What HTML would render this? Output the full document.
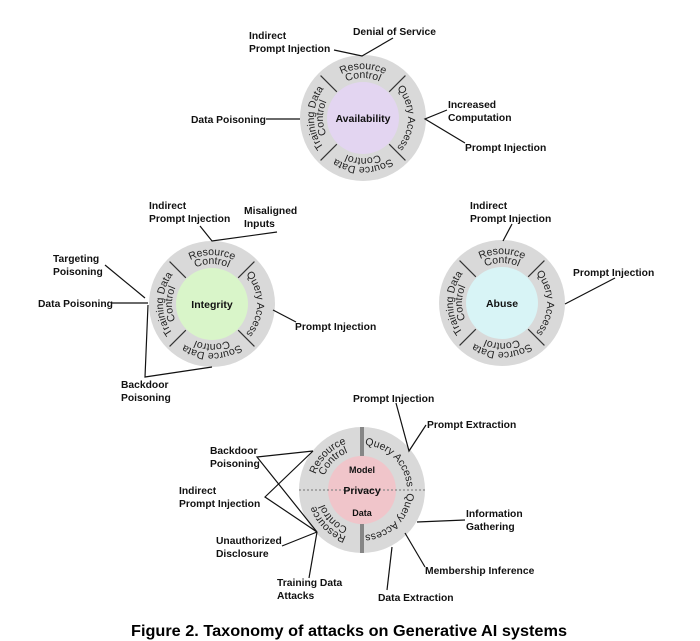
<!DOCTYPE html>
<html><head><meta charset="utf-8"><style>
html,body{margin:0;padding:0;background:#fff}
svg{display:block}
.l{font-family:"Liberation Sans",sans-serif;font-weight:bold;font-size:10.3px;fill:#111}
.r{font-family:"Liberation Sans",sans-serif;font-size:10.5px;fill:#222}
.c{font-family:"Liberation Sans",sans-serif;font-weight:bold;font-size:10.5px;fill:#111}
line,polyline{stroke:#111;stroke-width:1.2;fill:none}
</style></head><body>
<svg width="700" height="641" viewBox="0 0 700 641" xmlns="http://www.w3.org/2000/svg">
<defs>
<path id="a1" d="M -49,0 A 49 49 0 0 1 49,0"/>
<path id="a2" d="M -40,0 A 40 40 0 0 1 40,0"/>
<path id="a0" d="M -45,0 A 45 45 0 0 1 45,0"/>
<g id="sep">
<line x1="0" y1="-37" x2="0" y2="-60" style="stroke:#333;stroke-width:1.2"/>
</g>
</defs>

<!-- Availability -->
<g transform="translate(363,118)">
<circle r="63" fill="#d9d9d9"/>
<circle r="36" fill="#e3d5f1"/>
<use href="#sep" transform="rotate(45)"/><use href="#sep" transform="rotate(135)"/><use href="#sep" transform="rotate(-45)"/><use href="#sep" transform="rotate(-135)"/>
<text class="r"><textPath href="#a1" startOffset="50%" text-anchor="middle">Resource</textPath></text>
<text class="r"><textPath href="#a2" startOffset="50%" text-anchor="middle">Control</textPath></text>
<g transform="rotate(90)"><text class="r"><textPath href="#a0" startOffset="50%" text-anchor="middle">Query Access</textPath></text></g>
<g transform="rotate(180)"><text class="r"><textPath href="#a1" startOffset="50%" text-anchor="middle">Source Data</textPath></text><text class="r"><textPath href="#a2" startOffset="50%" text-anchor="middle">Control</textPath></text></g>
<g transform="rotate(-90)"><text class="r"><textPath href="#a1" startOffset="50%" text-anchor="middle">Training Data</textPath></text><text class="r"><textPath href="#a2" startOffset="50%" text-anchor="middle">Control</textPath></text></g>
<text class="c" text-anchor="middle" y="4">Availability</text>
</g>
<polyline points="334,50 362,56 393,38"/>
<text class="l" x="249" y="39">Indirect</text><text class="l" x="249" y="52">Prompt Injection</text>
<text class="l" x="353" y="35">Denial of Service</text>
<line x1="266" y1="119" x2="300" y2="119"/>
<text class="l" x="191" y="123">Data Poisoning</text>
<polyline points="447,110 425,119 465,143"/>
<text class="l" x="448" y="108">Increased</text><text class="l" x="448" y="121">Computation</text>
<text class="l" x="465" y="151">Prompt Injection</text>

<!-- Integrity -->
<g transform="translate(212,304)">
<circle r="63" fill="#d9d9d9"/>
<circle r="36" fill="#d9f5c9"/>
<use href="#sep" transform="rotate(45)"/><use href="#sep" transform="rotate(135)"/><use href="#sep" transform="rotate(-45)"/><use href="#sep" transform="rotate(-135)"/>
<text class="r"><textPath href="#a1" startOffset="50%" text-anchor="middle">Resource</textPath></text>
<text class="r"><textPath href="#a2" startOffset="50%" text-anchor="middle">Control</textPath></text>
<g transform="rotate(90)"><text class="r"><textPath href="#a0" startOffset="50%" text-anchor="middle">Query Access</textPath></text></g>
<g transform="rotate(180)"><text class="r"><textPath href="#a1" startOffset="50%" text-anchor="middle">Source Data</textPath></text><text class="r"><textPath href="#a2" startOffset="50%" text-anchor="middle">Control</textPath></text></g>
<g transform="rotate(-90)"><text class="r"><textPath href="#a1" startOffset="50%" text-anchor="middle">Training Data</textPath></text><text class="r"><textPath href="#a2" startOffset="50%" text-anchor="middle">Control</textPath></text></g>
<text class="c" text-anchor="middle" y="4">Integrity</text>
</g>
<polyline points="200,226 212,241 277,232"/>
<text class="l" x="149" y="209">Indirect</text><text class="l" x="149" y="222">Prompt Injection</text>
<text class="l" x="244" y="214">Misaligned</text><text class="l" x="244" y="227">Inputs</text>
<line x1="105" y1="265" x2="145" y2="298"/>
<text class="l" x="53" y="262">Targeting</text><text class="l" x="53" y="275">Poisoning</text>
<line x1="112" y1="303" x2="148" y2="303"/>
<text class="l" x="38" y="307">Data Poisoning</text>
<polyline points="148,305 145,377 212,367"/>
<text class="l" x="121" y="388">Backdoor</text><text class="l" x="121" y="401">Poisoning</text>
<line x1="273" y1="310" x2="296" y2="322"/>
<text class="l" x="295" y="330">Prompt Injection</text>

<!-- Abuse -->
<g transform="translate(502,303)">
<circle r="63" fill="#d9d9d9"/>
<circle r="36" fill="#d8f4f6"/>
<use href="#sep" transform="rotate(45)"/><use href="#sep" transform="rotate(135)"/><use href="#sep" transform="rotate(-45)"/><use href="#sep" transform="rotate(-135)"/>
<text class="r"><textPath href="#a1" startOffset="50%" text-anchor="middle">Resource</textPath></text>
<text class="r"><textPath href="#a2" startOffset="50%" text-anchor="middle">Control</textPath></text>
<g transform="rotate(90)"><text class="r"><textPath href="#a0" startOffset="50%" text-anchor="middle">Query Access</textPath></text></g>
<g transform="rotate(180)"><text class="r"><textPath href="#a1" startOffset="50%" text-anchor="middle">Source Data</textPath></text><text class="r"><textPath href="#a2" startOffset="50%" text-anchor="middle">Control</textPath></text></g>
<g transform="rotate(-90)"><text class="r"><textPath href="#a1" startOffset="50%" text-anchor="middle">Training Data</textPath></text><text class="r"><textPath href="#a2" startOffset="50%" text-anchor="middle">Control</textPath></text></g>
<text class="c" text-anchor="middle" y="4">Abuse</text>
</g>
<line x1="512" y1="224" x2="503" y2="241"/>
<text class="l" x="470" y="209">Indirect</text><text class="l" x="470" y="222">Prompt Injection</text>
<line x1="615" y1="278" x2="565" y2="304"/>
<text class="l" x="573" y="276">Prompt Injection</text>

<!-- Privacy -->
<g transform="translate(362,490)">
<circle r="63" fill="#d9d9d9"/>
<circle r="34" fill="#f0c5ca"/>
<line x1="-1" y1="-34" x2="-1" y2="-63" style="stroke:#333;stroke-width:1"/><line x1="1" y1="-34" x2="1" y2="-63" style="stroke:#333;stroke-width:1"/>
<line x1="-1" y1="34" x2="-1" y2="63" style="stroke:#333;stroke-width:1"/><line x1="1" y1="34" x2="1" y2="63" style="stroke:#333;stroke-width:1"/>
<line x1="-63" y1="0" x2="63" y2="0" style="stroke:#888;stroke-width:1.3;stroke-dasharray:2,2"/>
<g transform="rotate(-45)"><text class="r"><textPath href="#a1" startOffset="50%" text-anchor="middle">Resource</textPath></text><text class="r"><textPath href="#a2" startOffset="50%" text-anchor="middle">Control</textPath></text></g>
<g transform="rotate(45)"><text class="r"><textPath href="#a0" startOffset="50%" text-anchor="middle">Query Access</textPath></text></g>
<g transform="rotate(135)"><text class="r"><textPath href="#a0" startOffset="50%" text-anchor="middle">Query Access</textPath></text></g>
<g transform="rotate(-135)"><text class="r"><textPath href="#a1" startOffset="50%" text-anchor="middle">Resource</textPath></text><text class="r"><textPath href="#a2" startOffset="50%" text-anchor="middle">Control</textPath></text></g>
<text class="c" text-anchor="middle" y="-17" style="font-size:9px">Model</text>
<text class="c" text-anchor="middle" y="4">Privacy</text>
<text class="c" text-anchor="middle" y="26" style="font-size:9px">Data</text>
</g>
<polyline points="313,451 257,457 317,532"/>
<polyline points="313,451 265,497 317,532"/>
<text class="l" x="210" y="454">Backdoor</text><text class="l" x="210" y="467">Poisoning</text>
<text class="l" x="179" y="494">Indirect</text><text class="l" x="179" y="507">Prompt Injection</text>
<line x1="282" y1="546" x2="317" y2="532"/>
<text class="l" x="216" y="544">Unauthorized</text><text class="l" x="216" y="557">Disclosure</text>
<line x1="309" y1="578" x2="317" y2="532"/>
<text class="l" x="277" y="586">Training Data</text><text class="l" x="277" y="599">Attacks</text>
<polyline points="396,403 409,451 426,425"/>
<text class="l" x="353" y="402">Prompt Injection</text>
<text class="l" x="427" y="428">Prompt Extraction</text>
<line x1="465" y1="520" x2="417" y2="522"/>
<text class="l" x="466" y="517">Information</text><text class="l" x="466" y="530">Gathering</text>
<line x1="425" y1="567" x2="405" y2="533"/>
<text class="l" x="425" y="574">Membership Inference</text>
<line x1="387" y1="590" x2="392" y2="547"/>
<text class="l" x="378" y="601">Data Extraction</text>

<text x="131" y="636" textLength="436" lengthAdjust="spacingAndGlyphs" style="font-family:'Liberation Sans',sans-serif;font-weight:bold;font-size:16px;fill:#000">Figure 2.  Taxonomy of attacks on Generative AI systems</text>
</svg>
</body></html>
